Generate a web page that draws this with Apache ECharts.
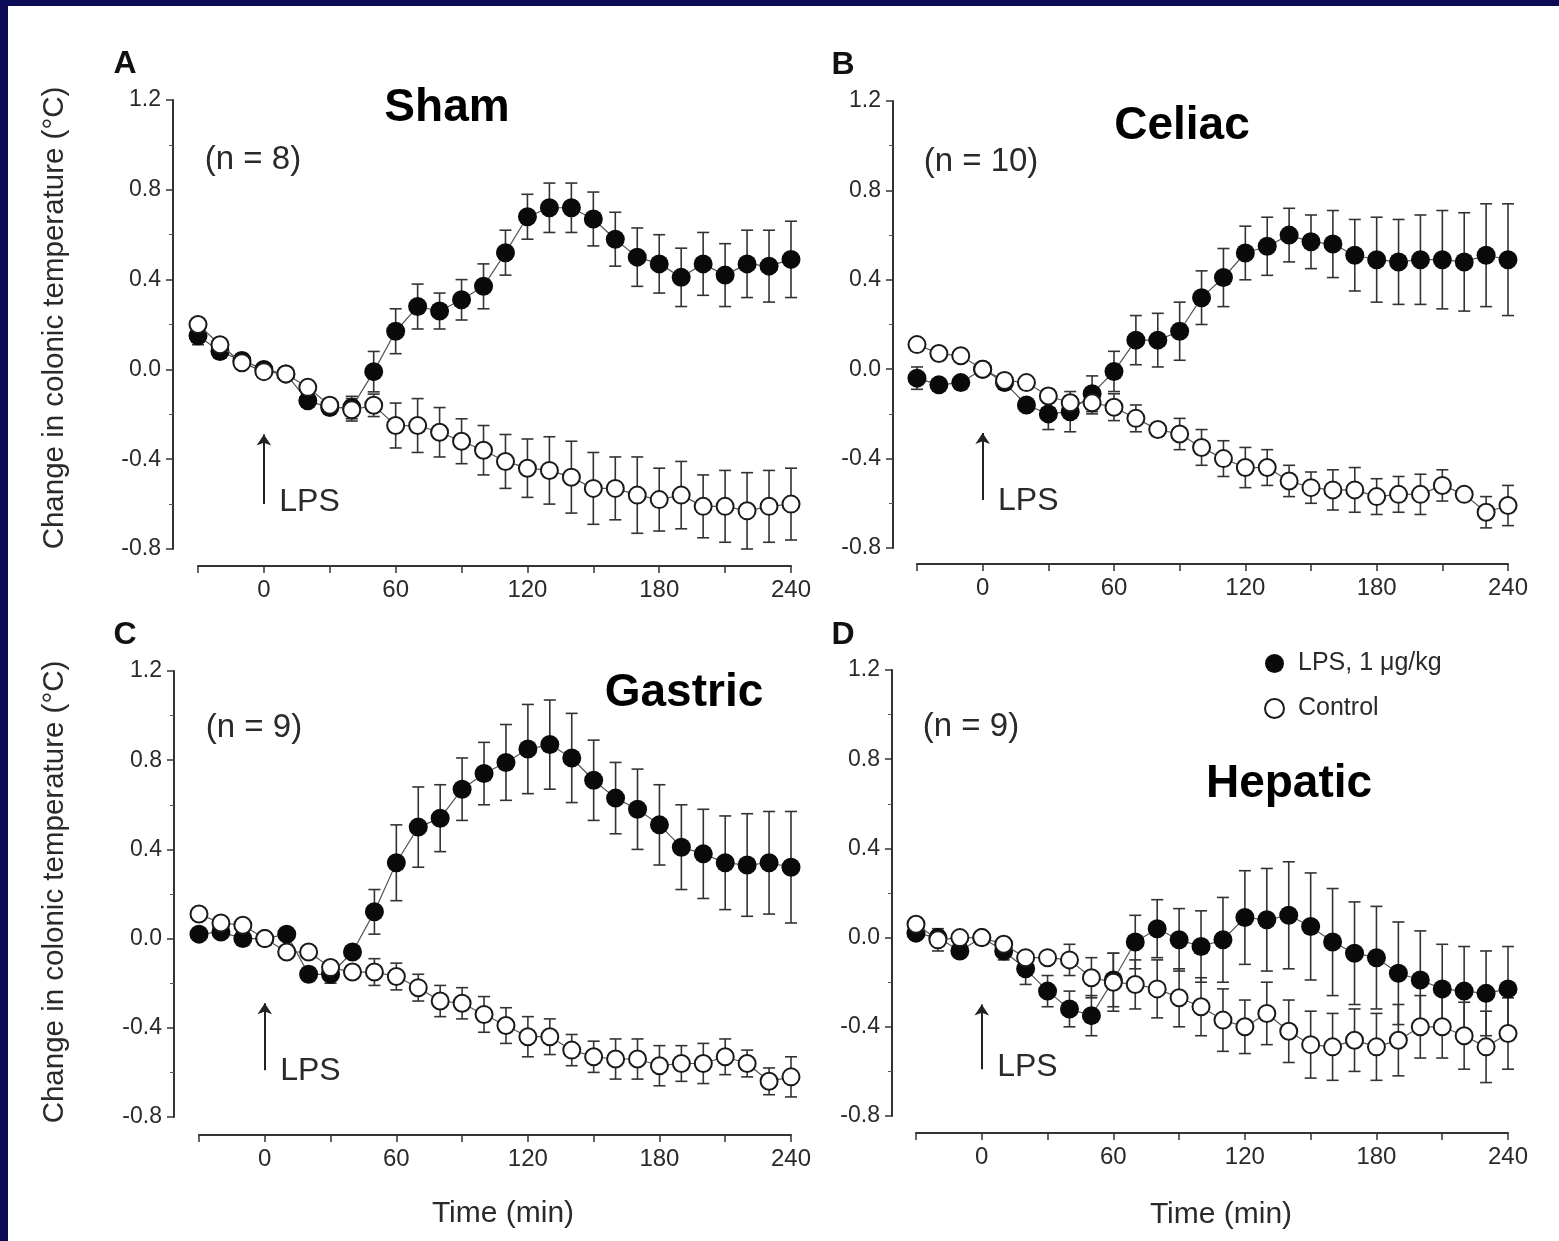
<!DOCTYPE html>
<html><head><meta charset="utf-8">
<script src="https://cdn.jsdelivr.net/npm/echarts/dist/echarts.min.js"></script>
<style>html,body{margin:0;padding:0;background:#0b0b58;}#c{width:1559px;height:1241px;}</style>
</head><body><div id="c"></div>
<script>
const times = [-30,-20,-10,0,10,20,30,40,50,60,70,80,90,100,110,120,130,140,150,160,170,180,190,200,210,220,230,240];
const xTickLabels = ['0','60','120','180','240'];
const yTickLabels = ['-0.8','-0.4','0.0','0.4','0.8','1.2'];
const panelTitles = ['Sham','Celiac','Gastric','Hepatic'];
const panelLetters = ['A','B','C','D'];
const panelN = ['(n = 8)','(n = 10)','(n = 9)','(n = 9)'];
const seriesNames = ['LPS, 1 \u03bcg/kg','Control'];

const shamLps    = [0.15,0.08,0.04,0.00,-0.02,-0.14,-0.17,-0.17,-0.01,0.17,0.28,0.26,0.31,0.37,0.52,0.68,0.72,0.72,0.67,0.58,0.50,0.47,0.41,0.47,0.42,0.47,0.46,0.49];
const shamLpsErr = [0.04,0.03,0.03,0.02,0.02,0.02,0.02,0.05,0.09,0.10,0.10,0.08,0.09,0.10,0.10,0.10,0.11,0.11,0.12,0.12,0.13,0.13,0.13,0.14,0.14,0.15,0.16,0.17];
const shamCtl    = [0.20,0.11,0.03,-0.01,-0.02,-0.08,-0.16,-0.18,-0.16,-0.25,-0.25,-0.28,-0.32,-0.36,-0.41,-0.44,-0.45,-0.48,-0.53,-0.53,-0.56,-0.58,-0.56,-0.61,-0.61,-0.63,-0.61,-0.60];
const shamCtlErr = [0.02,0.02,0.02,0.02,0.02,0.03,0.03,0.05,0.05,0.10,0.12,0.11,0.10,0.11,0.12,0.13,0.15,0.16,0.16,0.14,0.17,0.14,0.15,0.14,0.16,0.17,0.16,0.16];

const celiacLps    = [-0.04,-0.07,-0.06,0.00,-0.06,-0.16,-0.20,-0.19,-0.11,-0.01,0.13,0.13,0.17,0.32,0.41,0.52,0.55,0.60,0.57,0.56,0.51,0.49,0.48,0.49,0.49,0.48,0.51,0.49];
const celiacLpsErr = [0.05,0.02,0.02,0.02,0.03,0.02,0.07,0.09,0.08,0.09,0.11,0.12,0.13,0.12,0.13,0.12,0.13,0.12,0.12,0.15,0.16,0.19,0.19,0.20,0.22,0.22,0.23,0.25];
const celiacCtl    = [0.11,0.07,0.06,0.00,-0.05,-0.06,-0.12,-0.15,-0.15,-0.17,-0.22,-0.27,-0.29,-0.35,-0.40,-0.44,-0.44,-0.50,-0.53,-0.54,-0.54,-0.57,-0.56,-0.56,-0.52,-0.56,-0.64,-0.61];
const celiacCtlErr = [0.01,0.01,0.01,0.01,0.03,0.02,0.03,0.03,0.05,0.06,0.06,0.03,0.07,0.08,0.08,0.09,0.08,0.07,0.07,0.09,0.10,0.08,0.08,0.09,0.07,0.02,0.07,0.09];

const gastricLps    = [0.02,0.03,0.00,0.00,0.02,-0.16,-0.16,-0.06,0.12,0.34,0.50,0.54,0.67,0.74,0.79,0.85,0.87,0.81,0.71,0.63,0.58,0.51,0.41,0.38,0.34,0.33,0.34,0.32];
const gastricLpsErr = [0.01,0.01,0.01,0.01,0.01,0.03,0.04,0.02,0.10,0.17,0.18,0.15,0.14,0.14,0.17,0.20,0.20,0.20,0.18,0.16,0.18,0.18,0.19,0.20,0.21,0.23,0.23,0.25];
const gastricCtl    = [0.11,0.07,0.06,0.00,-0.06,-0.06,-0.13,-0.15,-0.15,-0.17,-0.22,-0.28,-0.29,-0.34,-0.39,-0.44,-0.44,-0.50,-0.53,-0.54,-0.54,-0.57,-0.56,-0.56,-0.53,-0.56,-0.64,-0.62];
const gastricCtlErr = [0.01,0.01,0.01,0.01,0.01,0.02,0.03,0.03,0.06,0.06,0.06,0.07,0.07,0.08,0.08,0.09,0.08,0.07,0.07,0.09,0.09,0.09,0.08,0.09,0.08,0.06,0.06,0.09];

const hepaticLps    = [0.02,0.00,-0.06,0.00,-0.06,-0.14,-0.24,-0.32,-0.35,-0.19,-0.02,0.04,-0.01,-0.04,-0.01,0.09,0.08,0.10,0.05,-0.02,-0.07,-0.09,-0.16,-0.19,-0.23,-0.24,-0.25,-0.23];
const hepaticLpsErr = [0.03,0.03,0.03,0.02,0.04,0.07,0.07,0.08,0.09,0.12,0.12,0.13,0.14,0.16,0.19,0.21,0.23,0.24,0.24,0.24,0.23,0.23,0.23,0.22,0.20,0.20,0.19,0.19];
const hepaticCtl    = [0.06,-0.01,0.00,0.00,-0.03,-0.09,-0.09,-0.10,-0.18,-0.20,-0.21,-0.23,-0.27,-0.31,-0.37,-0.40,-0.34,-0.42,-0.48,-0.49,-0.46,-0.49,-0.46,-0.40,-0.40,-0.44,-0.49,-0.43];
const hepaticCtlErr = [0.03,0.05,0.02,0.02,0.03,0.02,0.02,0.07,0.09,0.13,0.11,0.13,0.13,0.13,0.14,0.12,0.14,0.14,0.15,0.15,0.14,0.15,0.16,0.14,0.14,0.15,0.16,0.16];

const panels = [
  {lps: shamLps, lpsErr: shamLpsErr, ctl: shamCtl, ctlErr: shamCtlErr},
  {lps: celiacLps, lpsErr: celiacLpsErr, ctl: celiacCtl, ctlErr: celiacCtlErr},
  {lps: gastricLps, lpsErr: gastricLpsErr, ctl: gastricCtl, ctlErr: gastricCtlErr},
  {lps: hepaticLps, lpsErr: hepaticLpsErr, ctl: hepaticCtl, ctlErr: hepaticCtlErr}
];

const FONT = '"Liberation Sans", Arial, Helvetica, sans-serif';
const INK = '#2a2a2a';
const grids = [
  {left:198, top:100, width:593, height:449},
  {left:917, top:101, width:591, height:447},
  {left:199, top:671, width:592, height:446},
  {left:916, top:670, width:592, height:446}
];
const xOff = [17,16,18,17];
const yOff = [25,24,25,24];
const arrows = [[-0.60,-0.29,-0.59],[-0.585,-0.285,-0.59],[-0.59,-0.29,-0.594],[-0.59,-0.30,-0.58]];

const xAxes = grids.map((g,i)=>({
  gridIndex:i, type:'value', min:-30, max:240, interval:30, offset:xOff[i],
  axisLine:{show:true,onZero:false,lineStyle:{color:'#333',width:2}},
  axisTick:{show:true,length:7,lineStyle:{color:'#333',width:1.5}},
  splitLine:{show:false},
  axisLabel:{margin:12,fontSize:24,fontFamily:FONT,color:INK,
    formatter:v=>xTickLabels.indexOf(String(v))>=0?String(v):''}
}));
const yAxes = grids.map((g,i)=>({
  gridIndex:i, type:'value', min:-0.8, max:1.2, interval:0.4, offset:yOff[i],
  axisLine:{show:true,onZero:false,lineStyle:{color:'#333',width:2}},
  axisTick:{show:true,length:7,lineStyle:{color:'#333',width:1.5}},
  minorTick:{show:true,splitNumber:2,length:4,lineStyle:{color:'#555',width:1}},
  splitLine:{show:false},
  axisLabel:{margin:12,fontSize:23,fontFamily:FONT,color:INK,
    formatter:v=>{const s=(Math.round(v*10)/10).toFixed(1);return yTickLabels.indexOf(s)>=0?s:'';}}
}));

function errSeries(i, vals, errs){
  return {
    type:'custom', xAxisIndex:i, yAxisIndex:i, z:1, silent:true,
    data: times.map((t,k)=>[t, vals[k]-errs[k], vals[k]+errs[k]]),
    encode:{x:0,y:[1,2]},
    renderItem(params, api){
      const lo = api.coord([api.value(0), api.value(1)]);
      const hi = api.coord([api.value(0), api.value(2)]);
      const w = 6;
      const style = {stroke:'#333', lineWidth:1.6};
      return {type:'group', children:[
        {type:'line', shape:{x1:lo[0],y1:lo[1],x2:hi[0],y2:hi[1]}, style},
        {type:'line', shape:{x1:lo[0]-w,y1:lo[1],x2:lo[0]+w,y2:lo[1]}, style},
        {type:'line', shape:{x1:hi[0]-w,y1:hi[1],x2:hi[0]+w,y2:hi[1]}, style}
      ]};
    }
  };
}

const series = [];
panels.forEach((p,i)=>{
  series.push(errSeries(i, p.lps, p.lpsErr));
  series.push(errSeries(i, p.ctl, p.ctlErr));
  series.push({
    name: seriesNames[0], type:'line', xAxisIndex:i, yAxisIndex:i, z:3,
    data: times.map((t,k)=>[t,p.lps[k]]),
    symbol:'circle', symbolSize:19, showSymbol:true,
    itemStyle:{color:'#0a0a0a'},
    lineStyle:{color:'#555',width:1.2},
    animation:false,
    markLine:{silent:true, symbol:['none','arrow'], symbolSize:11,
      lineStyle:{color:'#222',width:2,type:'solid'}, label:{show:false},
      data:[[{coord:[0,arrows[i][0]]},{coord:[0,arrows[i][1]]}]]},
    markPoint:{silent:true, symbol:'circle', symbolSize:0,
      itemStyle:{color:'transparent'},
      data:[{coord:[7,arrows[i][2]], label:{show:true, formatter:'LPS', position:[0,0], align:'left', verticalAlign:'middle', fontSize:32, fontFamily:FONT, color:INK}}]}
  });
  series.push({
    name: seriesNames[1], type:'line', xAxisIndex:i, yAxisIndex:i, z:4,
    data: times.map((t,k)=>[t,p.ctl[k]]),
    symbol:'circle', symbolSize:17, showSymbol:true,
    itemStyle:{color:'#ffffff', borderColor:'#1a1a1a', borderWidth:2},
    lineStyle:{color:'#555',width:1.2},
    animation:false
  });
});

const titlePos = [[447,108],[1182,126],[684,693],[1289,784]];
const nPos = [[253,160],[981,162],[254,728],[971,727]];
const letterPos = [[125,64],[843,65],[125,635],[843,635]];
const graphic = [
  {type:'rect', z:-100, shape:{x:8,y:6,width:1551,height:1235}, style:{fill:'#ffffff'}}
];
for(let i=0;i<4;i++){
  graphic.push({type:'text', z:10, x:titlePos[i][0], y:titlePos[i][1],
    style:{text:panelTitles[i], font:'bold 46px '+FONT, fill:'#000', align:'center', verticalAlign:'middle'}});
  graphic.push({type:'text', z:10, x:nPos[i][0], y:nPos[i][1],
    style:{text:panelN[i], font:'33px '+FONT, fill:INK, align:'center', verticalAlign:'middle'}});
  graphic.push({type:'text', z:10, x:letterPos[i][0], y:letterPos[i][1],
    style:{text:panelLetters[i], font:'bold 32px '+FONT, fill:'#111', align:'center', verticalAlign:'middle'}});
}
const yTitle = 'Change in colonic temperature (\u00b0C)';
graphic.push({type:'text', z:10, x:55, y:318, rotation:Math.PI/2,
  style:{text:yTitle, font:'29.5px '+FONT, fill:INK, align:'center', verticalAlign:'middle'}});
graphic.push({type:'text', z:10, x:55, y:892, rotation:Math.PI/2,
  style:{text:yTitle, font:'29.5px '+FONT, fill:INK, align:'center', verticalAlign:'middle'}});
graphic.push({type:'text', z:10, x:503, y:1214,
  style:{text:'Time (min)', font:'30px '+FONT, fill:INK, align:'center', verticalAlign:'middle'}});
graphic.push({type:'text', z:10, x:1221, y:1215,
  style:{text:'Time (min)', font:'30px '+FONT, fill:INK, align:'center', verticalAlign:'middle'}});

const chart = echarts.init(document.getElementById('c'), null, {renderer:'canvas'});
chart.setOption({
  backgroundColor:'#0b0b58',
  animation:false,
  grid: grids.map(g=>Object.assign({containLabel:false}, g)),
  xAxis: xAxes,
  yAxis: yAxes,
  legend:{
    show:true, orient:'vertical', left:1259, top:646, itemGap:20,
    itemWidth:19, itemHeight:19, icon:'circle', selectedMode:false,
    data:seriesNames,
    textStyle:{fontSize:25, fontFamily:FONT, color:INK, padding:[0,0,0,9]}
  },
  graphic: graphic,
  series: series
});
</script></body></html>
